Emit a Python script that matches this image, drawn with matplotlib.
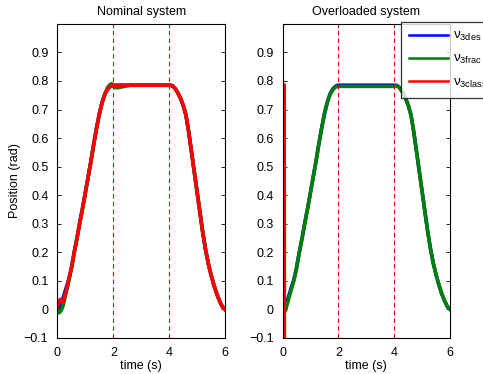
import matplotlib
matplotlib.use("Agg")
import matplotlib.pyplot as plt

plt.rcParams["font.family"] = ["Liberation Sans", "DejaVu Sans"]
plt.rcParams["mathtext.fontset"] = "custom"
plt.rcParams["mathtext.rm"] = "Liberation Sans"

# desired trajectory
t_des = [0.0, 0.1, 0.2, 0.3, 0.4, 0.5, 0.6, 0.7, 0.8, 0.9, 1.0, 1.1, 1.2, 1.3,
         1.4, 1.5, 1.6, 1.7, 1.8, 1.9, 2.0, 4.0, 4.1, 4.2, 4.3, 4.4, 4.5, 4.6,
         4.7, 4.8, 4.9, 5.0, 5.1, 5.2, 5.3, 5.4, 5.5, 5.6, 5.7, 5.8, 5.9, 6.0]
v_des = [0.0, 0.012, 0.04, 0.072, 0.103, 0.145, 0.20, 0.25, 0.305, 0.355, 0.41,
         0.465, 0.52, 0.58, 0.635, 0.685, 0.725, 0.755, 0.772, 0.782, 0.785,
         0.785, 0.784, 0.775, 0.76, 0.74, 0.715, 0.68, 0.62, 0.55, 0.48, 0.41,
         0.34, 0.27, 0.21, 0.16, 0.12, 0.085, 0.055, 0.03, 0.01, 0.0]

# nominal system: fractional controller (start and end of the ramp differ)
t_nom_frac_a = [0.0, 0.05, 0.1, 0.15, 0.2, 0.3, 0.4]
v_nom_frac_a = [0.0, -0.012, -0.008, 0.0, 0.012, 0.055, 0.095]
t_nom_frac_b = [1.8, 1.9, 1.95, 2.05, 2.15, 2.3, 2.6]
v_nom_frac_b = [0.778, 0.789, 0.79, 0.777, 0.776, 0.779, 0.785]

# nominal system: classical controller (small bump at start)
t_nom_class_a = [0.0, 0.05, 0.1, 0.15, 0.2, 0.3, 0.4]
v_nom_class_a = [0.01, 0.03, 0.035, 0.025, 0.025, 0.06, 0.105]

# overloaded system: fractional controller (slightly low at start and on hold)
t_ovl_frac_a = [0.0, 0.05, 0.1, 0.2, 0.3, 0.4]
v_ovl_frac_a = [0.0, -0.012, -0.005, 0.03, 0.065, 0.098]
t_ovl_frac_b = [1.7, 1.8, 1.9, 2.0, 4.0]
v_ovl_frac_b = [0.752, 0.769, 0.779, 0.781, 0.781]

# overloaded system: classical controller (diverges immediately)
t_ovl_class = [0.06, 0.07]
v_ovl_class = [0.785, -1.5]

time_ticks = [0, 2, 4, 6]
pos_ticks = [-0.1, 0, 0.1, 0.2, 0.3, 0.4, 0.5, 0.6, 0.7, 0.8, 0.9]
pos_labels = ["\u22120.1", "0", "0.1", "0.2", "0.3", "0.4", "0.5", "0.6",
              "0.7", "0.8", "0.9"]
phase_marks = [2, 4]


def splice(head_t, head_v, tail_t, tail_v):
    """Head points, then desired-trajectory points after the head."""
    rest = [(t, v) for t, v in zip(tail_t, tail_v) if t > head_t[-1]]
    return head_t + [p[0] for p in rest], head_v + [p[1] for p in rest]


def patch(base_t, base_v, mid_t, mid_v):
    """Replace the base points inside [mid_t[0], mid_t[-1]] with mid points."""
    pts = [(t, v) for t, v in zip(base_t, base_v) if t < mid_t[0] or t > mid_t[-1]]
    pts += list(zip(mid_t, mid_v))
    pts.sort()
    return [p[0] for p in pts], [p[1] for p in pts]


nom_frac = patch(*splice(t_nom_frac_a, v_nom_frac_a, t_des, v_des),
                 t_nom_frac_b, v_nom_frac_b)
nom_class = splice(t_nom_class_a, v_nom_class_a, t_des, v_des)
ovl_frac = patch(*splice(t_ovl_frac_a, v_ovl_frac_a, t_des, v_des),
                 t_ovl_frac_b, v_ovl_frac_b)
ovl_class = (t_ovl_class, v_ovl_class)

BLUE, GREEN, RED = (0, 0, 1), (0, 0.5, 0), (1, 0, 0)
LW = 2.6
FS = 9

fig = plt.figure(figsize=(4.83, 3.74), dpi=100)
ax1 = fig.add_axes([0.119, 0.0963, 0.347, 0.840])
ax2 = fig.add_axes([0.585, 0.0963, 0.347, 0.840])

panels = [
    (ax1, "Nominal system", nom_frac, nom_class),
    (ax2, "Overloaded system", ovl_frac, ovl_class),
]

for ax, title, frac, cls in panels:
    ax.plot(t_des, v_des, color=BLUE, lw=LW, label="\u03bd$_{\\mathrm{3des}}$")
    ax.plot(*frac, color=GREEN, lw=LW, label="\u03bd$_{\\mathrm{3frac}}$")
    ax.plot(*cls, color=RED, lw=LW, label="\u03bd$_{\\mathrm{3class}}$")
    for m in phase_marks:
        ax.axvline(m, color=(0.85, 0, 0), lw=0.8, ls=(0, (4, 3)))
    ax.set_xlim(0, 6)
    ax.set_ylim(-0.1, 1.0)
    ax.set_xticks(time_ticks)
    ax.set_yticks(pos_ticks)
    ax.set_yticklabels(pos_labels)
    ax.tick_params(direction="in", top=True, right=True, labelsize=FS,
                   length=3, width=0.6, pad=6.5)
    ax.set_xlabel("time (s)", fontsize=FS, labelpad=1)
    ax.set_title(title, fontsize=FS, pad=6)
    for sp in ax.spines.values():
        sp.set_linewidth(0.8)

ax1.set_ylabel("Position (rad)", fontsize=FS, labelpad=2)

# legend box runs past the right edge of the figure, as in the original
leg = ax2.legend(loc="upper left", bbox_to_anchor=(400.7 / 483, 1 - 22 / 374),
                 bbox_transform=fig.transFigure, fontsize=9.5, handlelength=3.0,
                 frameon=True, fancybox=False, edgecolor="black",
                 borderpad=0.6, labelspacing=0.75, handletextpad=0.4,
                 borderaxespad=0)
leg.get_frame().set_linewidth(0.9)
for h in leg.get_lines():
    h.set_linewidth(1.8)

fig.savefig("out.png", dpi=100)
